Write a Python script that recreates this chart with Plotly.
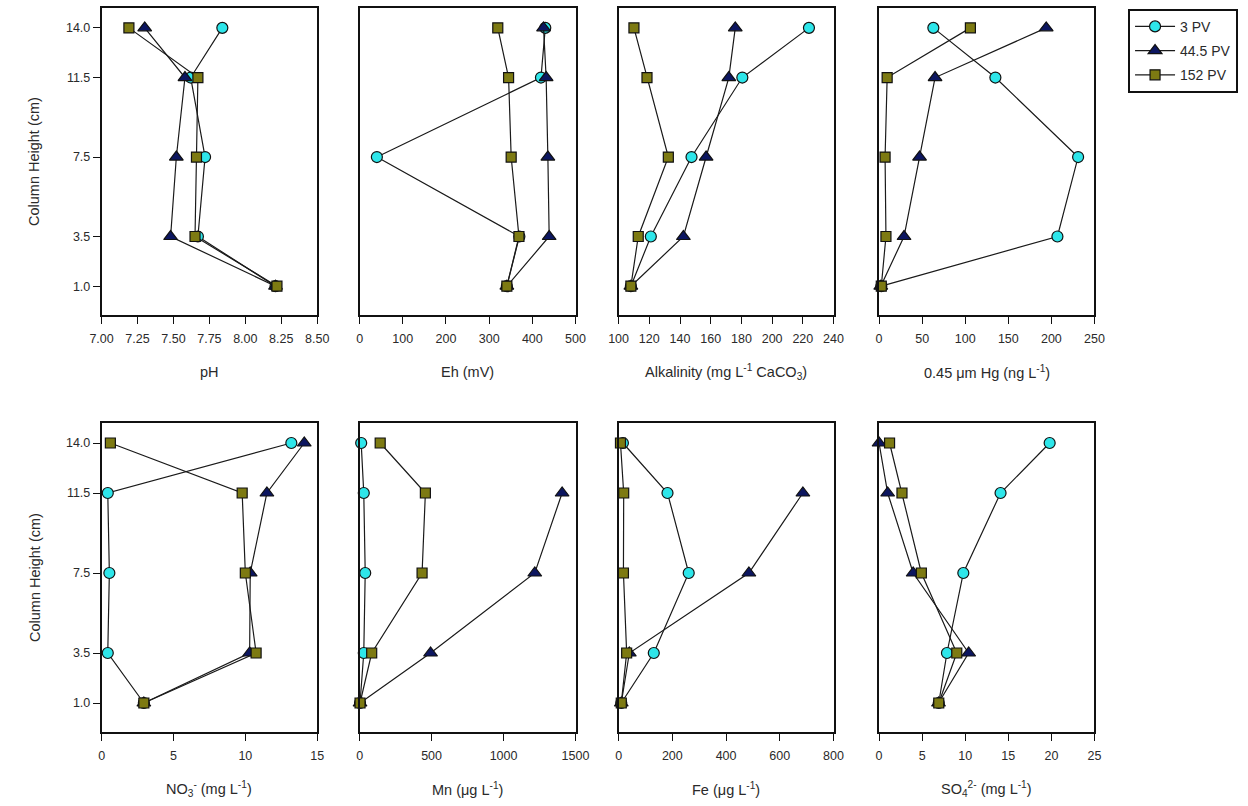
import plotly.graph_objects as go

# Sampling heights along the column (cm)
heights = [14.0, 11.5, 7.5, 3.5, 1.0]
height_ticks = [1.0, 3.5, 7.5, 11.5, 14.0]
height_labels = ["1.0", "3.5", "7.5", "11.5", "14.0"]

series_names = ["3 PV", "44.5 PV", "152 PV"]

# Porewater chemistry profiles, values ordered as `heights`
ph_3pv = [7.84, 7.62, 7.72, 7.67, 8.21]
ph_44pv = [7.30, 7.58, 7.52, 7.48, 8.21]
ph_152pv = [7.19, 7.67, 7.66, 7.65, 8.22]

eh_3pv = [430, 420, 40, 370, 341]
eh_44pv = [426, 432, 436, 439, 341]
eh_152pv = [320, 345, 351, 369, 341]

alk_3pv = [224, 180.6, 147.5, 121, 108]
alk_44pv = [176, 171.8, 157, 142.2, 108]
alk_152pv = [110, 118.5, 132.4, 112.8, 108]

hg_3pv = [63, 135, 231, 207, 2.6]
hg_44pv = [194, 65, 47, 29, 2.0]
hg_152pv = [106, 9.4, 7, 8, 2.6]

no3_3pv = [13.2, 0.43, 0.54, 0.43, 2.94]
no3_44pv = [14.1, 11.5, 10.34, 10.3, 2.94]
no3_152pv = [0.61, 9.78, 10.0, 10.75, 2.94]

mn_3pv = [11, 29, 39, 29, 3]
mn_44pv = [None, 1407, 1217, 493, 3]
mn_152pv = [143, 457, 434, 84, 3]

fe_3pv = [16, 182, 261, 131, 10]
fe_44pv = [None, 686, 485, 40, 10]
fe_152pv = [7, 19, 18, 30, 10]

so4_3pv = [19.8, 14.1, 9.78, 7.88, 6.93]
so4_44pv = [0.0, 1.0, 3.96, 10.4, 6.9]
so4_152pv = [1.22, 2.66, 4.91, 9.02, 6.93]

panels = [
    ("pH", [ph_3pv, ph_44pv, ph_152pv], [7.0, 8.5], 0.25, ".2f"),
    ("Eh (mV)", [eh_3pv, eh_44pv, eh_152pv], [0, 500], 100, "d"),
    ("Alkalinity (mg L<sup>-1</sup> CaCO<sub>3</sub>)", [alk_3pv, alk_44pv, alk_152pv], [100, 240], 20, "d"),
    ("0.45 \u03bcm Hg (ng L<sup>-1</sup>)", [hg_3pv, hg_44pv, hg_152pv], [0, 250], 50, "d"),
    ("NO<sub>3</sub><sup>-</sup> (mg L<sup>-1</sup>)", [no3_3pv, no3_44pv, no3_152pv], [0, 15], 5, "d"),
    ("Mn (\u03bcg L<sup>-1</sup>)", [mn_3pv, mn_44pv, mn_152pv], [0, 1500], 500, "d"),
    ("Fe (\u03bcg L<sup>-1</sup>)", [fe_3pv, fe_44pv, fe_152pv], [0, 800], 200, "d"),
    ("SO<sub>4</sub><sup>2-</sup> (mg L<sup>-1</sup>)", [so4_3pv, so4_44pv, so4_152pv], [0, 25], 5, "d"),
]

W, H = 1248, 806
col_px = [(91.5, 311.7), (355.0, 575.5), (619.5, 839.0), (885.5, 1105.5)]
row_px = [(8.0, 315.0), (423.0, 732.0)]

marker_styles = [
    dict(symbol="circle", size=11, color="#2ee6ea"),
    dict(symbol="triangle-up", size=12, color="#0c1660"),
    dict(symbol="square", size=10, color="#7d7a12"),
]

FONT = "Liberation Sans, Arial, sans-serif"
TEXT = "#2a2a2a"

fig = go.Figure()
annotations = []

for i, (title, series, xrange_, dtick, fmt) in enumerate(panels):
    r, c = divmod(i, 4)
    k = i + 1
    xa = "x" if k == 1 else f"x{k}"
    ya = "y" if k == 1 else f"y{k}"
    x0, x1 = col_px[c]
    top, bot = row_px[r]
    xdom = [x0 / W, x1 / W]
    ydom = [1 - bot / H, 1 - top / H]

    for s, (name, vals) in enumerate(zip(series_names, series)):
        ms = marker_styles[s]
        fig.add_trace(go.Scatter(
            x=vals, y=heights, name=name, mode="lines+markers",
            xaxis=xa, yaxis=ya, showlegend=(i == 0), legendgroup=name,
            line=dict(color="#1a1a1a", width=1.2),
            marker=dict(symbol=ms["symbol"], size=ms["size"], color=ms["color"],
                        line=dict(color="#111111", width=1.2)),
            cliponaxis=False,
        ))

    axis_common = dict(showline=True, mirror=True, linecolor="#111111", linewidth=1.6,
                       showgrid=False, zeroline=False)
    fig.layout[f"xaxis{'' if k == 1 else k}"] = dict(
        domain=xdom, anchor=ya, range=xrange_, dtick=dtick, tick0=xrange_[0],
        tickformat=fmt, ticks="outside", ticklen=7, tickwidth=1.4, tickcolor="#111111",
        ticklabelstandoff=4,
        tickfont=dict(family=FONT, size=12.5, color=TEXT), **axis_common)
    first_col = (c == 0)
    fig.layout[f"yaxis{'' if k == 1 else k}"] = dict(
        domain=ydom, anchor=xa, range=[-0.45, 15.0],
        tickvals=height_ticks if first_col else [],
        ticktext=height_labels if first_col else [],
        showticklabels=first_col, ticks="outside" if first_col else "",
        ticklen=7, tickwidth=1.4, tickcolor="#111111",
        tickfont=dict(family=FONT, size=12.5, color=TEXT), **axis_common)

    # x-axis title under each panel
    annotations.append(dict(
        text=title, xref="paper", yref="paper",
        x=(x0 + x1) / 2 / W, y=1 - (bot + 57) / H,
        xanchor="center", yanchor="middle", showarrow=False,
        font=dict(family=FONT, size=14.5, color=TEXT)))

    if first_col:
        annotations.append(dict(
            text="Column Height (cm)", xref="paper", yref="paper",
            x=23 / W, y=1 - (top + bot) / 2 / H, textangle=-90,
            xanchor="center", yanchor="middle", showarrow=False,
            font=dict(family=FONT, size=14.5, color=TEXT)))

fig.update_layout(
    width=W, height=H,
    margin=dict(l=0, r=0, t=0, b=0),
    paper_bgcolor="white", plot_bgcolor="white",
    annotations=annotations,
    legend=dict(
        x=1140 / W, y=1 - 9 / H, xanchor="left", yanchor="top",
        bordercolor="#111111", borderwidth=1.8, bgcolor="white",
        font=dict(family=FONT, size=14, color=TEXT),
        itemwidth=40, tracegroupgap=3,
    ),
)

fig.write_html("out.html")
